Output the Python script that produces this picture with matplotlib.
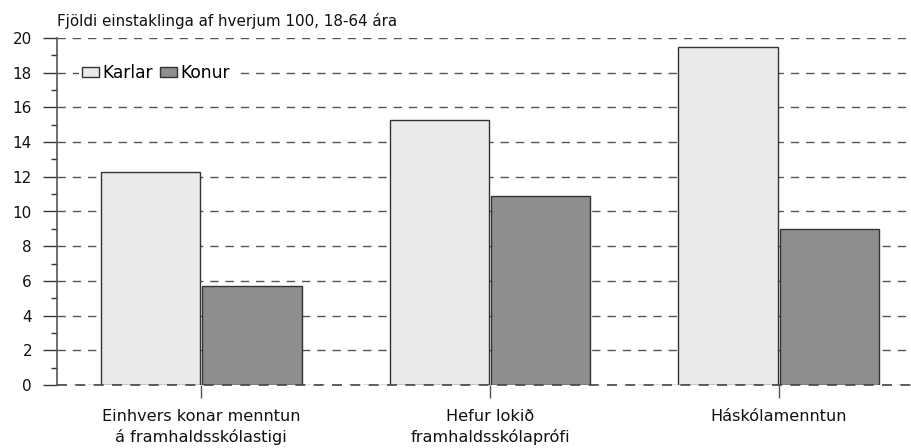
import matplotlib
matplotlib.use("Agg")
import matplotlib.pyplot as plt
import numpy as np
from matplotlib.ticker import MultipleLocator

categories = ["Einhvers konar menntun\ná framhaldsskólastigi",
              "Hefur lokið\nframhaldsskólaprófi",
              "Háskólamenntun"]
series_names = ["Karlar", "Konur"]
karlar = [12.3, 15.3, 19.5]
konur = [5.7, 10.9, 9.0]
y_ticks = [0, 2, 4, 6, 8, 10, 12, 14, 16, 18, 20]
title = "Fjöldi einstaklinga af hverjum 100, 18-64 ára"

W, H = 911, 448
fig = plt.figure(figsize=(W / 100, H / 100), dpi=100)
ax = fig.add_axes([57 / W, 63 / H, 866 / W, 347 / H])

x = np.arange(len(categories))
bw = 0.345
ax.bar(x - bw / 2 - 0.003, karlar, bw, color="#EAEAEA", edgecolor="#333333",
       linewidth=1.0, label=series_names[0], zorder=3)
ax.bar(x + bw / 2 + 0.003, konur, bw, color="#8E8E8E", edgecolor="#333333",
       linewidth=1.0, label=series_names[1], zorder=3)

ax.set_xlim(-0.5, 2.5)
ax.set_ylim(0, 20)
ax.set_yticks(y_ticks)
ax.yaxis.set_minor_locator(MultipleLocator(1))
ax.set_xticks(x)
ax.set_xticklabels(categories, fontsize=11.6, color="#111111", linespacing=1.45)
ax.tick_params(axis="y", which="major", direction="out", length=10, width=1,
               color="#333333", labelsize=11, labelcolor="#111111", pad=8)
ax.tick_params(axis="y", which="minor", direction="out", length=4, width=1,
               color="#333333")
ax.tick_params(axis="x", direction="out", length=9, width=1, color="#555555",
               pad=8)

for s in ["top", "right", "bottom"]:
    ax.spines[s].set_visible(False)
ax.spines["left"].set_color("#555555")
ax.spines["left"].set_linewidth(1.2)

dash = (0, (6, 5))
ax.grid(axis="y", which="major", linestyle=dash, color="#555555",
        linewidth=1.0, zorder=0)
ax.set_axisbelow(True)
ax.axhline(0, linestyle=dash, color="#444444", linewidth=1.2, zorder=4,
           clip_on=False)

leg = ax.legend(loc="upper left", bbox_to_anchor=(0.025, 0.935), ncol=2,
                frameon=True, fancybox=False, edgecolor="none",
                facecolor="white", framealpha=1.0, fontsize=12.3,
                handlelength=1.0, handleheight=0.6, handletextpad=0.2,
                columnspacing=0.4, borderpad=0.2, borderaxespad=0)

fig.text(57 / W, 1 - 26 / H, title, fontsize=10.9, ha="left", va="baseline",
         color="#111111")

fig.savefig("out.png", dpi=100, facecolor="white")
